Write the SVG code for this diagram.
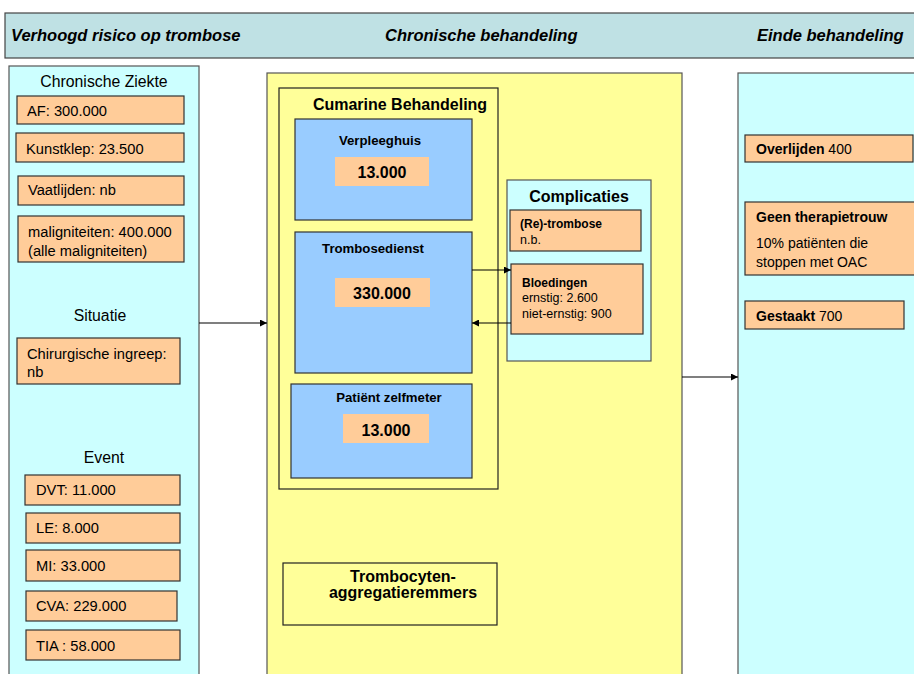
<svg xmlns="http://www.w3.org/2000/svg" width="914" height="674" viewBox="0 0 914 674">
<defs>
<style>
text{font-family:"Liberation Sans",Arial,sans-serif;fill:#000}
.hdr{font-size:16.5px;font-weight:bold;font-style:italic}
.cyan{fill:#ccffff;stroke:#555;stroke-width:1.2}
.yel{fill:#ffff99;stroke:#555;stroke-width:1.2}
.org{fill:#ffcc99;stroke:#333;stroke-width:1.2}
.orgn{fill:#ffcc99;stroke:none}
.blue{fill:#99ccff;stroke:#333;stroke-width:1.2}
.frame{fill:none;stroke:#222;stroke-width:1.2}
.t15{font-size:14.7px}
.t16{font-size:15.8px}
.b13{font-size:13.2px;font-weight:bold}
.b16{font-size:16px;font-weight:bold}
.b12{font-size:12px;font-weight:bold}
.r12{font-size:12.5px}
.r14{font-size:14px}
.b14{font-size:14px;font-weight:bold}
.conn{stroke:#000;stroke-width:1.2;fill:none;marker-end:url(#ah)}
</style>
<marker id="ah" viewBox="0 0 10 10" refX="10" refY="5" markerWidth="7" markerHeight="7" markerUnits="userSpaceOnUse" orient="auto">
<path d="M0,0 L10,5 L0,10 z" fill="#000"/>
</marker>
</defs>
<rect width="914" height="674" fill="#fff"/>

<g id="header">
<rect x="5" y="13" width="915" height="45" fill="#bfe1e4" stroke="#444" stroke-width="1.2"/>
<text class="hdr" x="11" y="41">Verhoogd risico op trombose</text>
<text class="hdr" x="385" y="41">Chronische behandeling</text>
<text class="hdr" x="757" y="41">Einde behandeling</text>
</g>

<g id="left-panel">
<rect class="cyan" x="9" y="66" width="190" height="620"/>
<text class="t16" x="104" y="87" text-anchor="middle">Chronische Ziekte</text>
<text class="t16" x="100" y="321" text-anchor="middle">Situatie</text>
<text class="t16" x="104" y="463" text-anchor="middle">Event</text>
</g>
<g id="af"><rect class="org" x="17" y="96" width="167" height="28"/><text class="t15" x="27" y="116">AF: 300.000</text></g>
<g id="kunstklep"><rect class="org" x="16" y="133" width="168" height="29"/><text class="t15" x="26" y="154">Kunstklep: 23.500</text></g>
<g id="vaatlijden"><rect class="org" x="18" y="176" width="166" height="29"/><text class="t15" x="28" y="195">Vaatlijden: nb</text></g>
<g id="maligniteiten"><rect class="org" x="18" y="216" width="166" height="46"/><text class="t15" x="28" y="237">maligniteiten: 400.000</text><text class="t15" x="28" y="256">(alle maligniteiten)</text></g>
<g id="chirurgisch"><rect class="org" x="17" y="338" width="163" height="46"/><text class="t15" x="27" y="359">Chirurgische ingreep:</text><text class="t15" x="27" y="377">nb</text></g>
<g id="dvt"><rect class="org" x="25" y="475" width="155" height="30"/><text class="t15" x="36" y="495">DVT: 11.000</text></g>
<g id="le"><rect class="org" x="26" y="513" width="154" height="30"/><text class="t15" x="36" y="533">LE: 8.000</text></g>
<g id="mi"><rect class="org" x="26" y="550" width="154" height="31"/><text class="t15" x="36" y="571">MI: 33.000</text></g>
<g id="cva"><rect class="org" x="26" y="591" width="151" height="30"/><text class="t15" x="36" y="611">CVA: 229.000</text></g>
<g id="tia"><rect class="org" x="26" y="630" width="154" height="30"/><text class="t15" x="36" y="651">TIA : 58.000</text></g>

<g id="middle-panel">
<rect class="yel" x="267" y="73" width="415" height="620"/>
</g>
<g id="cumarine">
<rect class="frame" x="279" y="88" width="219" height="401" fill="#ffff99"/>
<text class="b16" x="400" y="110" text-anchor="middle">Cumarine Behandeling</text>
</g>
<g id="verpleeghuis">
<rect class="blue" x="295" y="119" width="177" height="101"/>
<text class="b13" x="380" y="145" text-anchor="middle">Verpleeghuis</text>
<rect class="orgn" x="335" y="157" width="94" height="29"/>
<text class="b16" x="382" y="178" text-anchor="middle">13.000</text>
</g>
<g id="trombosedienst">
<rect class="blue" x="295" y="232" width="177" height="141"/>
<text class="b13" x="373" y="253" text-anchor="middle">Trombosedienst</text>
<rect class="orgn" x="335" y="278" width="95" height="29"/>
<text class="b16" x="382" y="299" text-anchor="middle">330.000</text>
</g>
<g id="zelfmeter">
<rect class="blue" x="291" y="384" width="181" height="94"/>
<text class="b13" x="389" y="402" text-anchor="middle">Patiënt zelfmeter</text>
<rect class="orgn" x="343" y="414" width="86" height="29"/>
<text class="b16" x="386" y="436" text-anchor="middle">13.000</text>
</g>
<g id="complicaties">
<rect class="cyan" x="507" y="180" width="144" height="181"/>
<text class="b16" x="579" y="202" text-anchor="middle">Complicaties</text>
</g>
<g id="retrombose">
<rect class="org" x="510" y="210" width="131" height="41"/>
<text class="b12" x="520" y="228">(Re)-trombose</text>
<text class="r12" x="520" y="244">n.b.</text>
</g>
<g id="bloedingen">
<rect class="org" x="511" y="264" width="132" height="70"/>
<text class="b12" x="522" y="287">Bloedingen</text>
<text class="r12" x="522" y="302">ernstig: 2.600</text>
<text class="r12" x="522" y="318">niet-ernstig: 900</text>
</g>
<g id="trombocyten">
<rect class="frame" x="283" y="563" width="214" height="62"/>
<text class="b16" x="403" y="582" text-anchor="middle">Trombocyten-</text>
<text class="b16" x="403" y="598" text-anchor="middle" textLength="148" lengthAdjust="spacingAndGlyphs">aggregatieremmers</text>
</g>

<g id="right-panel">
<rect class="cyan" x="738" y="73" width="200" height="620"/>
</g>
<g id="overlijden"><rect class="org" x="745" y="135" width="168" height="27"/><text class="r14" x="756" y="154"><tspan font-weight="bold">Overlijden</tspan> 400</text></g>
<g id="therapietrouw"><rect class="org" x="745" y="202" width="175" height="73"/><text class="b14" x="756" y="222">Geen therapietrouw</text><text class="r14" x="756" y="248">10% patiënten die</text><text class="r14" x="756" y="267">stoppen met OAC</text></g>
<g id="gestaakt"><rect class="org" x="745" y="301" width="159" height="28"/><text class="r14" x="756" y="321"><tspan font-weight="bold">Gestaakt</tspan> 700</text></g>

<g id="connectors">
<line class="conn" x1="199" y1="323" x2="267" y2="323"/>
<line class="conn" x1="472" y1="270" x2="511" y2="270"/>
<line class="conn" x1="511" y1="323" x2="472" y2="323"/>
<line class="conn" x1="682" y1="377" x2="738" y2="377"/>
</g>
</svg>
